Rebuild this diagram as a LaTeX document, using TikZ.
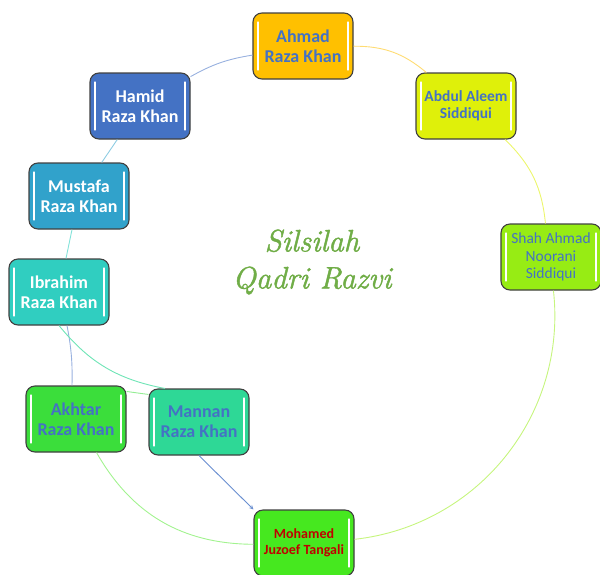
\documentclass[tikz,border=0pt]{standalone}
\usepackage{fontspec}
\setmainfont{Carlito}
\newfontfamily\titlefont[ItalicFeatures={FakeBold=1.5}]{Latin Modern Roman}
\definecolor{ahmadfill}{HTML}{FFC000}
\definecolor{abdulfill}{HTML}{DFF00A}
\definecolor{shahfill}{HTML}{97EC14}
\definecolor{hamidfill}{HTML}{4472C4}
\definecolor{mustafafill}{HTML}{31A2CB}
\definecolor{ibrahimfill}{HTML}{30CEC0}
\definecolor{akhtarfill}{HTML}{3BDE3B}
\definecolor{mannanfill}{HTML}{2ED896}
\definecolor{mohamedfill}{HTML}{46E81F}
\definecolor{nameblue}{HTML}{4472C4}
\definecolor{namered}{HTML}{C00000}
\definecolor{titlegreen}{HTML}{70AD47}

\begin{document}
\begin{tikzpicture}
  [x=1pt, y=-1pt, line width=0.9pt,
   every node/.style={rectangle, rounded corners=9pt, draw=black!75, line width=1.1pt,
     minimum width=100pt, minimum height=66pt, align=center, inner sep=2pt,
     font=\bfseries\fontsize{18}{20}\selectfont, text=nameblue,
     path picture={
       \draw[white, line width=1.3pt, line cap=round]
         ([xshift=5pt,yshift=-9pt]path picture bounding box.north west) --
         ([xshift=5pt,yshift=9pt]path picture bounding box.south west)
         ([xshift=-5pt,yshift=-9pt]path picture bounding box.north east) --
         ([xshift=-5pt,yshift=9pt]path picture bounding box.south east);}},
   small/.style={font=\bfseries\fontsize{15.5}{17.5}\selectfont},
   link/.style={draw=#1, line width=0.9pt}]
  \useasboundingbox (0,0) rectangle (600,574);

  \node (ahmad)   [fill=ahmadfill]   at (303,46)  {Ahmad\\Raza Khan};
  \node (abdul)   [fill=abdulfill, small] at (466,106) {Abdul Aleem\\Siddiqui};
  \node (shah)    [fill=shahfill, font=\fontsize{15.5}{17.5}\selectfont] at (551,257) {Shah Ahmad\\Noorani\\Siddiqui};
  \node (hamid)   [fill=hamidfill, text=white]   at (140,106) {Hamid\\Raza Khan};
  \node (mustafa) [fill=mustafafill, text=white] at (79,196)  {Mustafa\\Raza Khan};
  \node (ibrahim) [fill=ibrahimfill, text=white] at (59,292)  {Ibrahim\\Raza Khan};
  \node (akhtar)  [fill=akhtarfill]  at (76,419)  {Akhtar\\Raza Khan};
  \node (mannan)  [fill=mannanfill]  at (199,422) {Mannan\\Raza Khan};
  \node (mohamed) [fill=mohamedfill, text=namered, font=\bfseries\fontsize{14}{16}\selectfont] at (304,543) {Mohamed\\Juzoef Tangali};

  \node (title) [draw=none, path picture={}, text=titlegreen,
    font=\titlefont\itshape\fontsize{31}{37}\selectfont] at (312,262) {Silsilah\\Qadri Razvi};

  \draw[link=ahmadfill!55] (ahmad) to[bend left=20] (abdul);
  \draw[link=abdulfill!60] (abdul) to[bend left=20] (shah);
  \draw[link=shahfill!55] (shah) to[bend left=45] (mohamed);
  \draw[link=mohamedfill!50] (mohamed) to[bend left=30] (akhtar);
  \draw[link=hamidfill!55] (hamid) to[bend left=10] (ahmad);
  \draw[link=mustafafill!55] (mustafa) -- (hamid);
  \draw[link=ibrahimfill!60] (ibrahim) -- (mustafa);
  \draw[link=hamidfill!55] ([xshift=8pt]ibrahim.south) to[bend left=6] ([xshift=-4pt]akhtar.north);
  \draw[link=mannanfill!70] (ibrahim.south) to[bend right=20] ([xshift=-34pt]mannan.north);
  \draw[link=akhtarfill!55] ([yshift=-6pt]akhtar.north east) -- ([yshift=-6pt]mannan.north west);
  \draw[link=hamidfill!80, ->, >=stealth] (mannan.south) -- (mohamed.north west);
\end{tikzpicture}
\end{document}
